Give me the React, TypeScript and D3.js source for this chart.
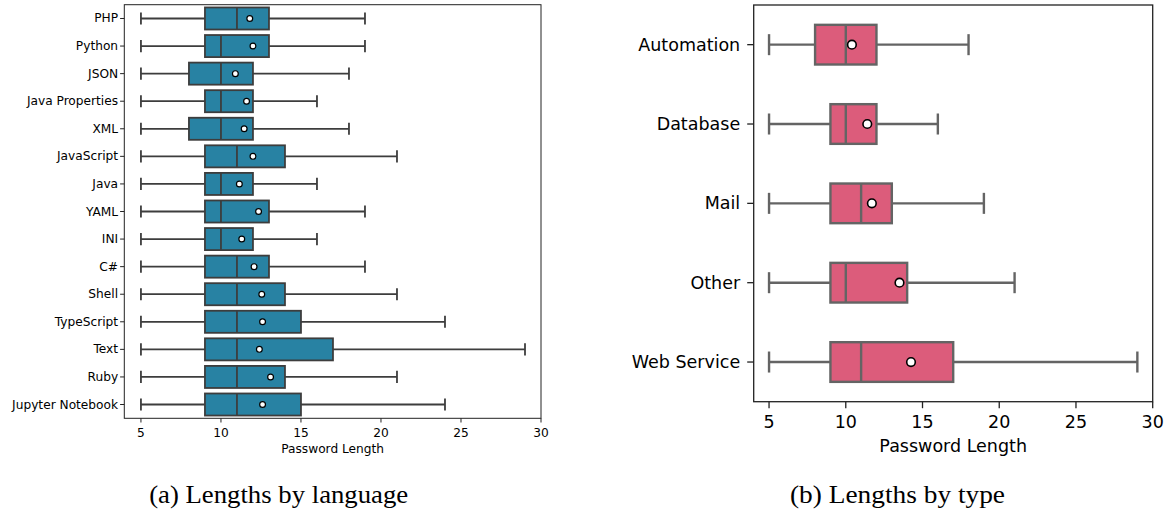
import React from "react";
import * as d3 from "d3";

// ---------- Data: (a) Lengths by language ----------
const languages = ["PHP", "Python", "JSON", "Java Properties", "XML", "JavaScript", "Java", "YAML", "INI", "C#", "Shell", "TypeScript", "Text", "Ruby", "Jupyter Notebook"];
const langWhiskerLow = [5, 5, 5, 5, 5, 5, 5, 5, 5, 5, 5, 5, 5, 5, 5];
const langQ1 = [9, 9, 8, 9, 8, 9, 9, 9, 9, 9, 9, 9, 9, 9, 9];
const langMedian = [11, 10, 10, 10, 10, 11, 10, 10, 10, 11, 11, 11, 11, 11, 11];
const langQ3 = [13, 13, 12, 12, 12, 14, 12, 13, 12, 13, 14, 15, 17, 14, 15];
const langWhiskerHigh = [19, 19, 18, 16, 18, 21, 16, 19, 16, 19, 21, 24, 29, 21, 24];
const langMean = [11.8, 12.0, 10.9, 11.6, 11.45, 12.0, 11.15, 12.35, 11.3, 12.07, 12.55, 12.6, 12.4, 13.1, 12.6];

// ---------- Data: (b) Lengths by type ----------
const types = ["Automation", "Database", "Mail", "Other", "Web Service"];
const typeWhiskerLow = [5, 5, 5, 5, 5];
const typeQ1 = [8, 9, 9, 9, 9];
const typeMedian = [10, 10, 11, 10, 11];
const typeQ3 = [12, 12, 13, 14, 17];
const typeWhiskerHigh = [18, 16, 19, 21, 29];
const typeMean = [10.4, 11.4, 11.7, 13.5, 14.25];

const xTicks = [5, 10, 15, 20, 25, 30];
const xLabel = "Password Length";

type PanelProps = {
  cats: string[];
  lo: number[];
  q1: number[];
  med: number[];
  q3: number[];
  hi: number[];
  mean: number[];
  x0: number;
  x1: number;
  y0: number;
  y1: number;
  domain: [number, number];
  boxFrac: number;
  capFrac: number;
  fill: string;
  edge: string;
  lw: number;
  fontSize: number;
  tickLen: number;
  spineW: number;
  meanR: number;
  meanSW: number;
  yLabelGap: number;
  xTickLabelY: number;
  xLabelY: number;
  caption: string;
  captionW: number;
  captionCx: number;
};

function BoxPanel(p: PanelProps) {
  const x = d3.scaleLinear().domain(p.domain).range([p.x0, p.x1]);
  const y = d3.scaleBand<string>().domain(p.cats).range([p.y0, p.y1]).padding(0);
  const bw = y.bandwidth();
  const bh = bw * p.boxFrac;
  const capH = bh * p.capFrac;
  const font = "DejaVu Sans, sans-serif";
  const cx = (p.x0 + p.x1) / 2;
  return (
    <g>
      {p.cats.map((c, i) => {
        const cy = (y(c) as number) + bw / 2;
        return (
          <g key={c}>
            <line x1={x(p.lo[i])} x2={x(p.q1[i])} y1={cy} y2={cy} stroke={p.edge} strokeWidth={p.lw} />
            <line x1={x(p.q3[i])} x2={x(p.hi[i])} y1={cy} y2={cy} stroke={p.edge} strokeWidth={p.lw} />
            <line x1={x(p.lo[i])} x2={x(p.lo[i])} y1={cy - capH / 2} y2={cy + capH / 2} stroke={p.edge} strokeWidth={p.lw} />
            <line x1={x(p.hi[i])} x2={x(p.hi[i])} y1={cy - capH / 2} y2={cy + capH / 2} stroke={p.edge} strokeWidth={p.lw} />
            <rect x={x(p.q1[i])} y={cy - bh / 2} width={x(p.q3[i]) - x(p.q1[i])} height={bh} fill={p.fill} stroke={p.edge} strokeWidth={p.lw} />
            <line x1={x(p.med[i])} x2={x(p.med[i])} y1={cy - bh / 2} y2={cy + bh / 2} stroke={p.edge} strokeWidth={p.lw} />
            <circle cx={x(p.mean[i])} cy={cy} r={p.meanR} fill="#ffffff" stroke="#000000" strokeWidth={p.meanSW} />
            <line x1={p.x0 - p.tickLen} x2={p.x0} y1={cy} y2={cy} stroke="#222" strokeWidth={p.spineW} />
            <text x={p.x0 - p.tickLen - p.yLabelGap} y={cy} textAnchor="end" dominantBaseline="central" fontFamily={font} fontSize={p.fontSize} fill="#000">{c}</text>
          </g>
        );
      })}
      <rect x={p.x0} y={p.y0} width={p.x1 - p.x0} height={p.y1 - p.y0} fill="none" stroke="#222" strokeWidth={p.spineW} />
      {xTicks.map((t) => (
        <g key={t}>
          <line x1={x(t)} x2={x(t)} y1={p.y1} y2={p.y1 + p.tickLen} stroke="#222" strokeWidth={p.spineW} />
          <text x={x(t)} y={p.xTickLabelY} textAnchor="middle" dominantBaseline="central" fontFamily={font} fontSize={p.fontSize} fill="#000">{t}</text>
        </g>
      ))}
      <text x={cx} y={p.xLabelY} textAnchor="middle" dominantBaseline="central" fontFamily={font} fontSize={p.fontSize} fill="#000">{xLabel}</text>
      <text x={p.captionCx - p.captionW / 2} y={503} textLength={p.captionW} lengthAdjust="spacingAndGlyphs" fontFamily="Liberation Serif, serif" fontSize={25} fill="#000">{p.caption}</text>
    </g>
  );
}

export default function App() {
  return (
    <svg width={1170} height={510} style={{ position: "absolute", left: 0, top: 0, background: "#fff" }}>
      <rect x={0} y={0} width={1170} height={510} fill="#fff" />
      <BoxPanel
        cats={languages} lo={langWhiskerLow} q1={langQ1} med={langMedian} q3={langQ3} hi={langWhiskerHigh} mean={langMean}
        x0={124.3} x1={541} y0={4.7} y1={418.3} domain={[3.96, 30]}
        boxFrac={0.8} capFrac={0.55} fill="#2882a3" edge="#3d3d3d" lw={1.8}
        fontSize={12.2} tickLen={4.2} spineW={1} meanR={2.9} meanSW={1.2} yLabelGap={2}
        xTickLabelY={432.7} xLabelY={449.3} caption="(a) Lengths by language" captionW={259} captionCx={278.7}
      />
      <BoxPanel
        cats={types} lo={typeWhiskerLow} q1={typeQ1} med={typeMedian} q3={typeQ3} hi={typeWhiskerHigh} mean={typeMean}
        x0={753.7} x1={1152.7} y0={5} y1={401.7} domain={[4.0, 30]}
        boxFrac={0.5} capFrac={0.53} fill="#dc5c7b" edge="#646464" lw={2.4}
        fontSize={17.5} tickLen={6.5} spineW={1.3} meanR={4.3} meanSW={1.6} yLabelGap={7}
        xTickLabelY={421.7} xLabelY={446} caption="(b) Lengths by type" captionW={215} captionCx={897.5}
      />
    </svg>
  );
}
